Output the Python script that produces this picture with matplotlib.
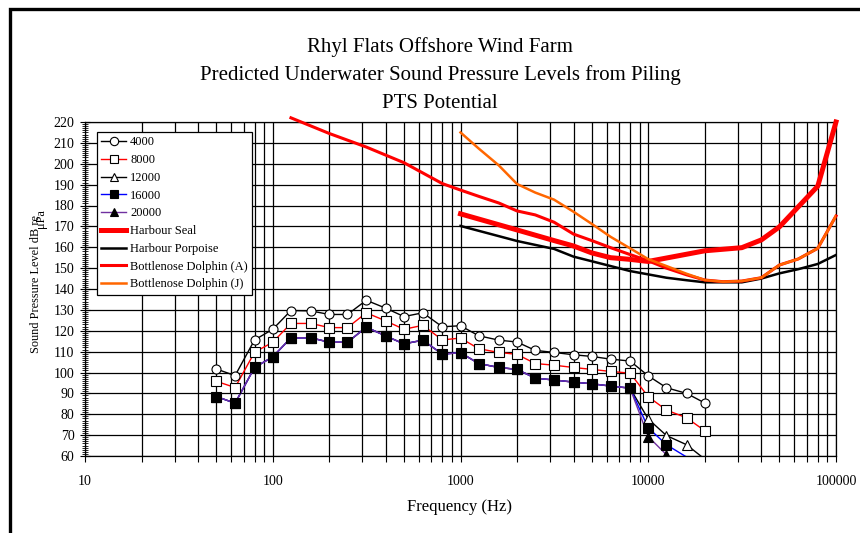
import numpy as np
import matplotlib.pyplot as plt
from matplotlib.lines import Line2D
from matplotlib.patches import Rectangle

plt.rcParams['font.family'] = ['Liberation Serif', 'DejaVu Serif']

# one-third octave band centre frequencies (Hz)
bands = [50, 63, 80, 100, 125, 160, 200, 250, 315, 400, 500, 630, 800, 1000,
         1250, 1600, 2000, 2500, 3150, 4000, 5000, 6300, 8000, 10000, 12500,
         16000, 20000]

# predicted levels at the ranges in the legend
lvl_4000 = [101.7, 98.5, 115.6, 120.7, 129.7, 129.5, 127.8, 127.8, 134.6, 130.8,
            126.8, 128.6, 121.9, 122.4, 117.6, 115.5, 114.6, 110.6, 109.6, 108.5,
            107.7, 106.4, 105.5, 98.4, 92.7, 90.0, 85.4]
lvl_8000 = [95.8, 92.8, 109.7, 114.5, 123.5, 123.5, 121.5, 121.5, 128.6, 124.7,
            120.7, 122.6, 115.6, 116.5, 111.4, 109.6, 108.7, 104.3, 103.5, 102.4,
            101.5, 100.5, 99.7, 88.4, 82.0, 78.3, 72.1]
lvl_low = [88.5, 85.3, 102.4, 107.5, 116.6, 116.6, 114.5, 114.5, 121.7, 117.5,
           113.7, 115.5, 108.8, 109.5, 104.3, 102.4, 101.5, 97.3, 96.4, 95.4,
           94.6, 93.5, 92.5]
lvl_12000 = lvl_low + [77.7, 69.8, 65.4, 58.5]
lvl_16000 = lvl_low + [73.5, 65.4, 59.5, 52.0]
lvl_20000 = lvl_low + [69.3, 60.6, 48.0, 40.0]

# PTS threshold curves
seal_f = [1000, 2000, 3150, 4000, 5000, 6300, 8000, 10000, 20000, 31500, 40000,
          50000, 80000, 100000]
seal_v = [176, 168.3, 163.2, 160.6, 157.3, 155, 154.2, 153.2, 158.3, 159.8, 163.5,
          169.8, 189.3, 220]

porp_f = [1000, 2000, 3150, 4000, 5000, 6300, 8000, 10000, 12500, 16000, 20000,
          31500, 40000, 50000, 63000, 80000, 100000]
porp_v = [170.2, 163, 159.2, 155.5, 153.3, 151, 148.6, 147, 145.4, 144.2, 143.2,
          143.2, 145, 147.5, 149.5, 152, 156.3]

dolA_f = [125, 200, 315, 500, 800, 1000, 1250, 1600, 2000, 2500, 3150, 4000, 5000,
          6300, 8000, 10000, 12500, 16000, 20000, 25000, 31500, 40000, 50000,
          63000, 80000, 100000]
dolA_v = [222, 214.5, 208, 200.5, 190.5, 187.4, 184.4, 181.2, 177.4, 175.5, 172,
          166.3, 163.2, 159.8, 156.5, 153.5, 150, 146.8, 144.3, 143.5, 143.8,
          145.4, 151.5, 154.4, 159.5, 175]

dolJ_f = [1000, 1250, 1600, 2000, 2500, 3150, 4000, 5000, 6300, 8000, 10000, 12500,
          16000, 20000, 25000, 31500, 40000, 50000, 63000, 80000, 100000]
dolJ_v = [215, 207.3, 199.2, 190.3, 186.2, 182.8, 177, 171.2, 165, 159.5, 154.3,
          151, 147.3, 144.3, 143.5, 143.8, 145.4, 151.5, 154.4, 159.5, 175]

x_ticks = [10, 100, 1000, 10000, 100000]
y_ticks = list(range(60, 221, 10))

PURPLE = '#7030A0'
ORANGE = '#FF6600'

fig = plt.figure(figsize=(8.6, 5.33), dpi=100)
ax = fig.add_axes([85 / 860, 77 / 533, 751 / 860, 334 / 533])

# series: label, values, line colour, marker, marker face
series = [
    ('4000', lvl_4000, 'black', 'o', 'white'),
    ('8000', lvl_8000, 'red', 's', 'white'),
    ('12000', lvl_12000, 'black', '^', 'white'),
    ('16000', lvl_16000, 'blue', 's', 'black'),
    ('20000', lvl_20000, PURPLE, '^', 'black'),
]

handles = []
for lab, vals, col, mk, face in series:
    vals = np.array(vals, dtype=float)
    ax.plot(bands, vals, color=col, lw=1.0, zorder=3)
    # markers below the axis minimum are not drawn
    shown = np.where(vals >= 60, vals, np.nan)
    ax.plot(bands, shown, ls='none', marker=mk, ms=6.5, mfc=face, mec='black',
            mew=0.8, zorder=4)
    handles.append(Line2D([], [], color=col, lw=1.0, marker=mk, ms=6, mfc=face,
                          mec='black', mew=0.8, label=lab))

ax.plot(porp_f, porp_v, color='black', lw=1.8, zorder=5)
ax.plot(seal_f, seal_v, color='red', lw=3.6, zorder=5, clip_on=False)
ax.plot(dolA_f, dolA_v, color='red', lw=2.2, zorder=5, clip_on=False)
ax.plot(dolJ_f, dolJ_v, color=ORANGE, lw=1.8, zorder=6)

handles += [
    Line2D([], [], color='red', lw=3.6, label='Harbour Seal'),
    Line2D([], [], color='black', lw=1.8, label='Harbour Porpoise'),
    Line2D([], [], color='red', lw=2.2, label='Bottlenose Dolphin (A)'),
    Line2D([], [], color=ORANGE, lw=1.8, label='Bottlenose Dolphin (J)'),
]

ax.set_xscale('log')
ax.set_xlim(10, 100000)
ax.set_ylim(60, 220)
ax.set_xticks(x_ticks)
ax.set_xticklabels([str(t) for t in x_ticks])
ax.set_yticks(y_ticks)
ax.set_yticks(np.arange(60, 221, 1), minor=True)

ax.grid(True, which='major', color='black', lw=0.9)
ax.grid(True, which='minor', axis='x', color='black', lw=0.9)
ax.tick_params(axis='x', which='both', direction='out', length=4, width=0.8,
               pad=10, labelsize=10)
ax.tick_params(axis='y', which='major', direction='inout', length=7, width=0.8,
               pad=4, labelsize=10)
ax.tick_params(axis='y', which='minor', direction='inout', length=4, width=0.6)
ax.tick_params(axis='x', which='minor', labelbottom=False)
for sp in ax.spines.values():
    sp.set_color('black')
    sp.set_linewidth(0.9)

leg = ax.legend(handles=handles, loc='upper left',
                bbox_to_anchor=(12 / 751, 324 / 334), fontsize=9,
                handlelength=2.0, labelspacing=0.46, borderpad=0.35,
                borderaxespad=0, handletextpad=0.3, fancybox=False,
                framealpha=1, edgecolor='black')
leg.get_frame().set_linewidth(0.9)

fig.text(440 / 860, 1 - 47 / 533, 'Rhyl Flats Offshore Wind Farm',
         ha='center', va='center', fontsize=15)
fig.text(440 / 860, 1 - 75 / 533,
         'Predicted Underwater Sound Pressure Levels from Piling',
         ha='center', va='center', fontsize=15)
fig.text(440 / 860, 1 - 103 / 533, 'PTS Potential',
         ha='center', va='center', fontsize=15)

fig.text(460 / 860, 1 - 507 / 533, 'Frequency (Hz)', ha='center', va='center',
         fontsize=12)
fig.text(36 / 860, 1 - 284 / 533, 'Sound Pressure Level dB re', rotation=90,
         ha='center', va='center', fontsize=8.8)
fig.text(41 / 860, 1 - 219 / 533, '\u03bcPa', rotation=90,
         ha='center', va='center', fontsize=8.8)

# outer border of the chart area
fig.patches.append(Rectangle((10 / 860, -0.1), 1.2, 0.1 + 1 - 9 / 533,
                             transform=fig.transFigure, fill=False,
                             edgecolor='black', lw=2.4))

fig.savefig('out.png', dpi=100)
